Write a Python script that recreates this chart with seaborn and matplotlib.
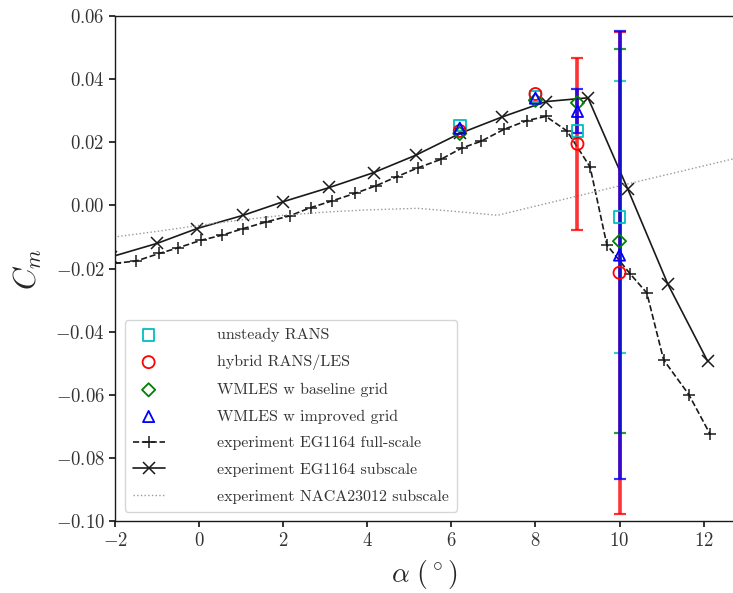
import matplotlib
matplotlib.use("Agg")
import matplotlib.pyplot as plt
import matplotlib.ticker as mticker
import seaborn as sns

# --- experiment curves ---
alpha_full = [-2.0, -1.5, -0.95, -0.5, 0.05, 0.55, 1.05, 1.6, 2.15, 2.65, 3.15, 3.7,
              4.2, 4.7, 5.2, 5.75, 6.25, 6.7, 7.25, 7.8, 8.25, 8.75, 9.3, 9.7,
              10.25, 10.65, 11.05, 11.65, 12.15]
cm_full = [-0.0183, -0.0176, -0.0152, -0.0134, -0.0110, -0.0094, -0.0073, -0.0052,
           -0.0033, -0.0007, 0.0014, 0.0038, 0.0062, 0.0091, 0.0119, 0.0146, 0.0182,
           0.0203, 0.0241, 0.0269, 0.0282, 0.0236, 0.0122, -0.0125, -0.0216, -0.0277,
           -0.0489, -0.0599, -0.0723]

alpha_sub = [-2.1, -1.0, -0.05, 1.05, 2.0, 3.1, 4.15, 5.15, 6.2, 7.2, 8.25, 9.25,
             10.2, 11.15, 12.1]
cm_sub = [-0.0163, -0.0120, -0.0073, -0.0031, 0.0012, 0.0057, 0.0104, 0.0159, 0.0228,
          0.0280, 0.0329, 0.0341, 0.0051, -0.0249, -0.0494]

alpha_naca = [-2.2, -1.0, 0.0, 1.0, 2.0, 3.0, 4.0, 5.2, 6.2, 7.1, 10.0, 13.0]
cm_naca = [-0.0103, -0.0082, -0.0063, -0.0046, -0.0031, -0.0021, -0.0014, -0.0009,
           -0.0020, -0.0031, 0.0062, 0.0157]

# --- simulations ---
alpha_cfd = [6.2, 8.0, 9.0, 10.0]
cm_urans = [0.0253, 0.0345, 0.0236, -0.0036]
err_urans = [0.0, 0.0, 0.0, 0.0430]
cm_hybrid = [0.0236, 0.0353, 0.0195, -0.0213]
err_hybrid = [0.0, 0.0, 0.0272, 0.0763]
cm_wm_base = [0.0228, 0.0333, 0.0325, -0.0113]
err_wm_base = [0.0, 0.0, 0.0, 0.0607]
cm_wm_impr = [0.0245, 0.0340, 0.0298, -0.0157]
err_wm_impr = [0.0, 0.0, 0.0070, 0.0708]

sns.set_theme(style="ticks")
plt.rcParams["font.family"] = ["cmr10", "DejaVu Serif"]
plt.rcParams["mathtext.fontset"] = "cm"
plt.rcParams["axes.formatter.use_mathtext"] = True

fig = plt.figure(figsize=(7.33, 5.93), dpi=100)
ax = fig.add_axes([0.157, 0.121, 0.843, 0.852])

# experiments
sns.lineplot(x=alpha_full, y=cm_full, ax=ax, color="k", linestyle="--", linewidth=1.2,
             marker="+", markersize=8, mec="k", mew=1.1, label="experiment EG1164 full-scale")
sns.lineplot(x=alpha_sub, y=cm_sub, ax=ax, color="k", linestyle="-", linewidth=1.2,
             marker="x", markersize=8, mec="k", mew=1.1, label="experiment EG1164 subscale")
sns.lineplot(x=alpha_naca, y=cm_naca, ax=ax, color="0.6", linestyle=":", linewidth=1.0,
             label="experiment NACA23012 subscale")

# simulations: error bars then open markers
cfd = [
    ("unsteady RANS", cm_urans, err_urans, "#00bfbf", "s", 70),
    ("hybrid RANS/LES", cm_hybrid, err_hybrid, "#ff0000", "o", 75),
    ("WMLES w baseline grid", cm_wm_base, err_wm_base, "#008000", "D", 45),
    ("WMLES w improved grid", cm_wm_impr, err_wm_impr, "#0000ff", "^", 65),
]
for name, cm, err, col, mk, size in cfd:
    xs = [a for a, e in zip(alpha_cfd, err) if e > 0]
    ys = [c for c, e in zip(cm, err) if e > 0]
    es = [e for e in err if e > 0]
    thick = col in ("#ff0000", "#0000ff")
    ax.errorbar(xs, ys, yerr=es, fmt="none", ecolor=col, elinewidth=2.6 if thick else 1.5,
                capsize=4, capthick=1.6, alpha=0.8, zorder=3)
for name, cm, err, col, mk, size in cfd:
    sns.scatterplot(x=alpha_cfd, y=cm, ax=ax, marker=mk, s=size, facecolors="none",
                    edgecolor=col, linewidth=1.3, label=name, zorder=4)

handles, labels = ax.get_legend_handles_labels()
order = ["unsteady RANS", "hybrid RANS/LES", "WMLES w baseline grid", "WMLES w improved grid",
         "experiment EG1164 full-scale", "experiment EG1164 subscale",
         "experiment NACA23012 subscale"]
hmap = dict(zip(labels, handles))
leg = ax.legend([hmap[o] for o in order], order, loc="lower left", fontsize=11.5,
                frameon=True, fancybox=True, edgecolor="0.8", framealpha=0.8,
                handlelength=2.0, handletextpad=3.3, labelspacing=0.78,
                borderpad=0.5, borderaxespad=0.6)
for t in leg.get_texts():
    t.set_color("0.2")

ax.set_xlim(-2, 12.7)
ax.set_ylim(-0.10, 0.06)
ax.set_xticks([-2, 0, 2, 4, 6, 8, 10, 12])
ax.set_yticks([-0.10, -0.08, -0.06, -0.04, -0.02, 0.00, 0.02, 0.04, 0.06])
ax.yaxis.set_major_formatter(mticker.FormatStrFormatter("$%.2f$"))
ax.xaxis.set_major_formatter(mticker.FormatStrFormatter("$%d$"))
ax.tick_params(labelsize=13.5, direction="out", length=4, color="k", labelcolor="0.2")
ax.spines["right"].set_visible(False)
for s in ["left", "bottom", "top"]:
    ax.spines[s].set_color("k")
    ax.spines[s].set_linewidth(1.0)
ax.set_xlabel(r"$\alpha\ (^\circ)$", fontsize=20, labelpad=6)
ax.set_ylabel(r"$C_m$", fontsize=22, labelpad=8)

plt.savefig("out.png", dpi=100)
